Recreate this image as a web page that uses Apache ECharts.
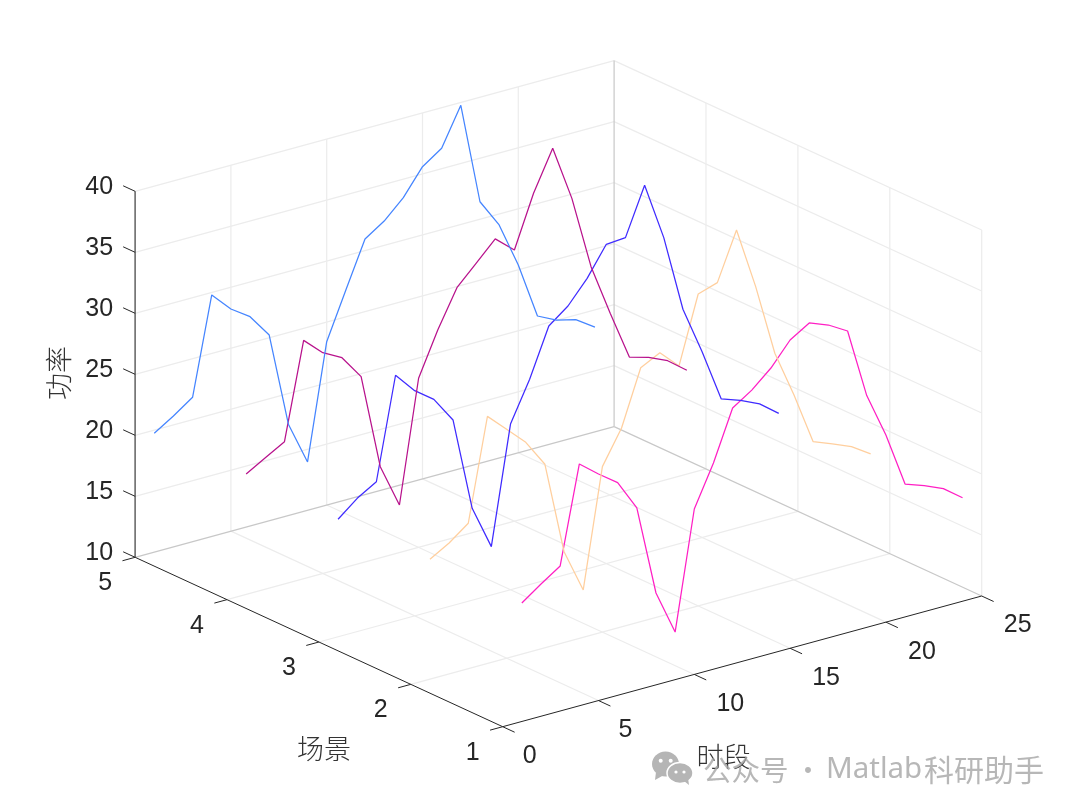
<!DOCTYPE html>
<html>
<head>
<meta charset="utf-8">
<title>功率</title>
<script src="https://cdn.jsdelivr.net/npm/echarts@6/dist/echarts.min.js"></script>
<style>
html,body{margin:0;padding:0;background:#fff;}
#main{width:1080px;height:812px;}
</style>
</head>
<body>
<div id="main"></div>
<script>
// 数据 (t=1..24, 从图上读取)
var hours = [1,2,3,4,5,6,7,8,9,10,11,12,13,14,15,16,17,18,19,20,21,22,23,24];
var scene1 = [19.71,20.84,21.89,29.82,28.57,27.43,24.93,17.53,13.90,23.56,26.90,30.98,32.02,33.40,35.27,36.24,35.64,34.72,29.00,25.34,20.89,20.33,19.66,18.48];
var scene2 = [19.82,20.73,21.92,30.25,28.76,27.27,25.04,17.44,13.88,23.56,26.30,30.81,31.61,30.10,35.57,36.07,39.96,34.89,29.00,25.15,20.89,20.28,19.63,18.60];
var scene3 = [19.63,20.92,21.85,30.15,28.46,27.32,25.20,17.53,13.96,23.58,26.82,30.76,31.97,33.81,36.17,36.29,40.15,35.43,29.13,25.22,20.92,20.38,19.66,18.46];
var scene4 = [19.87,20.78,21.66,29.54,28.10,27.26,25.28,17.47,13.90,23.86,27.39,30.43,32.00,33.57,32.23,36.45,39.71,35.18,29.15,24.90,20.89,20.43,19.73,18.52];
var scene5 = [19.74,20.72,21.83,29.79,28.21,27.15,25.22,17.48,13.96,23.39,27.20,30.95,31.99,33.48,35.59,36.67,39.76,31.43,29.10,25.39,20.78,20.02,19.62,18.58];

var timeTicks = [0,5,10,15,20,25];
var sceneTicks = [1,2,3,4,5];
var powerTicks = [10,15,20,25,30,35,40];

var sceneColors = ['#ff1fc4','#ffcf9e','#3f2bff','#b8128c','#4585ff'];

// 三维视角投影: (时段, 场景, 功率) -> 画布坐标
function project(t, s, p){
	return [
		502.7 + 19.16 * t - 91.9 * (s - 1),
		726.7 - 5.228 * t - 42.35 * (s - 1) - 12.2 * (p - 10)
	];
}

var series = [];

function addSeg(a, b, color, width){
	series.push({
		type : 'line',
		data : [project(a[0],a[1],a[2]), project(b[0],b[1],b[2])],
		symbol : 'none',
		silent : true,
		clip : false,
		animation : false,
		lineStyle : {color : color, width : width}
	});
}

var gridColor = '#ececec';
var boxColor = '#c8c8c8';
var axisColor = '#262626';

// 底面网格
timeTicks.slice(1,5).forEach(function(t){
	addSeg([t,1,10],[t,5,10],gridColor,1.2);
	addSeg([t,5,10],[t,5,40],gridColor,1.2);
});
sceneTicks.slice(1,4).forEach(function(s){
	addSeg([0,s,10],[25,s,10],gridColor,1.2);
	addSeg([25,s,10],[25,s,40],gridColor,1.2);
});
// 后墙网格
powerTicks.slice(1).forEach(function(p){
	addSeg([0,5,p],[25,5,p],gridColor,1.2);
	addSeg([25,5,p],[25,1,p],gridColor,1.2);
});
addSeg([25,1,10],[25,1,40],gridColor,1.2);
addSeg([0,5,10],[25,5,10],boxColor,1.2);
addSeg([25,5,10],[25,1,10],boxColor,1.2);
addSeg([25,5,10],[25,5,40],boxColor,1.2);

// 曲线
[scene1,scene2,scene3,scene4,scene5].forEach(function(vals,i){
	series.push({
		name : '场景' + (i + 1),
		type : 'line',
		data : vals.map(function(v,k){ return project(hours[k], i + 1, v); }),
		symbol : 'none',
		silent : true,
		clip : false,
		animation : false,
		lineStyle : {color : sceneColors[i], width : 1.25}
	});
});

// 坐标轴和刻度
addSeg([0,1,10],[25,1,10],axisColor,1);
addSeg([0,1,10],[0,5,10],axisColor,1);
addSeg([0,5,10],[0,5,40],'#555',1.4);
timeTicks.forEach(function(t){ addSeg([t,1,10],[t,0.87,10],axisColor,1); });
sceneTicks.forEach(function(s){ addSeg([0,s,10],[-0.66,s,10],axisColor,1); });
powerTicks.forEach(function(p){ addSeg([0,5,p],[0,5.13,p],axisColor,1); });

// 刻度文字
var labels = [];
function addLabel(pos, dx, dy, text, align){
	labels.push({
		value : pos,
		label : {
			show : true,
			position : [dx, dy],
			formatter : text,
			align : align,
			verticalAlign : 'middle',
			color : '#262626',
			opacity : 1,
			fontSize : 25,
			fontFamily : 'Liberation Sans'
		}
	});
}
powerTicks.forEach(function(p){ addLabel(project(0,5,p), -22, -4.5, String(p), 'right'); });
sceneTicks.forEach(function(s){ addLabel(project(0,s,10), -30, 26, String(s), 'center'); });
timeTicks.forEach(function(t){ addLabel(project(t,1,10), String(t).length > 1 ? 36 : 27, 29.5, String(t), 'center'); });
series.push({
	type : 'scatter',
	data : labels,
	symbolSize : 0,
	itemStyle : {opacity : 1},
	silent : true,
	clip : false,
	animation : false
});

var cjk = 'Noto Sans CJK SC';
var markColor = '#b5b5b5';
var option = {
	backgroundColor : '#fff',
	animation : false,
	grid : {left : 0, top : 0, width : 1080, height : 812},
	xAxis : {type : 'value', min : 0, max : 1080, show : false},
	yAxis : {type : 'value', min : 0, max : 812, inverse : true, show : false},
	series : series,
	graphic : [
		{type : 'text', x : 324, y : 749, z : 50, style : {text : '场景', font : '300 27px "' + cjk + '"', fill : '#333', align : 'center', verticalAlign : 'middle'}},
		{type : 'text', x : 723.5, y : 757, z : 50, style : {text : '时段', font : '300 27px "' + cjk + '"', fill : '#333', align : 'center', verticalAlign : 'middle'}},
		{type : 'text', x : 59, y : 373, rotation : Math.PI / 2, z : 50, style : {text : '功率', font : '300 27px "' + cjk + '"', fill : '#333', align : 'center', verticalAlign : 'middle'}},
		// 水印
		{type : 'text', x : 703, y : 770, z : 60, style : {text : '公众号', font : '28.5px "' + cjk + '"', fill : 'rgba(165,165,165,0.8)', align : 'left', verticalAlign : 'middle'}},
		{type : 'text', x : 808, y : 770, z : 60, style : {text : '·', font : '28px "' + cjk + '"', fill : 'rgba(165,165,165,0.8)', align : 'center', verticalAlign : 'middle'}},
		{type : 'text', x : 826, y : 770, z : 60, style : {text : 'Matlab', font : '29.5px "Noto Sans"', fill : 'rgba(165,165,165,0.8)', align : 'left', verticalAlign : 'middle'}},
		{type : 'text', x : 924, y : 770, z : 60, style : {text : '科研助手', font : '30px "' + cjk + '"', fill : 'rgba(165,165,165,0.8)', align : 'left', verticalAlign : 'middle'}},
		{type : 'ellipse', z : 61, shape : {cx : 665.5, cy : 764, rx : 13.5, ry : 12.5}, style : {fill : markColor}},
		{type : 'polygon', z : 61, shape : {points : [[656,772],[655,780],[664,775]]}, style : {fill : markColor}},
		{type : 'ellipse', z : 62, shape : {cx : 680, cy : 773, rx : 13, ry : 10.5}, style : {fill : markColor, stroke : '#fff', lineWidth : 1.5}},
		{type : 'polygon', z : 62, shape : {points : [[684,781],[689,785],[688,778]]}, style : {fill : markColor}},
		{type : 'circle', z : 63, shape : {cx : 660.7, cy : 760.7, r : 2}, style : {fill : '#fff'}},
		{type : 'circle', z : 63, shape : {cx : 670.7, cy : 760.7, r : 2}, style : {fill : '#fff'}},
		{type : 'circle', z : 63, shape : {cx : 676, cy : 772, r : 1.6}, style : {fill : '#fff'}},
		{type : 'circle', z : 63, shape : {cx : 684, cy : 772, r : 1.6}, style : {fill : '#fff'}}
	]
};

var chart = echarts.init(document.getElementById('main'));
chart.setOption(option);
</script>
</body>
</html>
